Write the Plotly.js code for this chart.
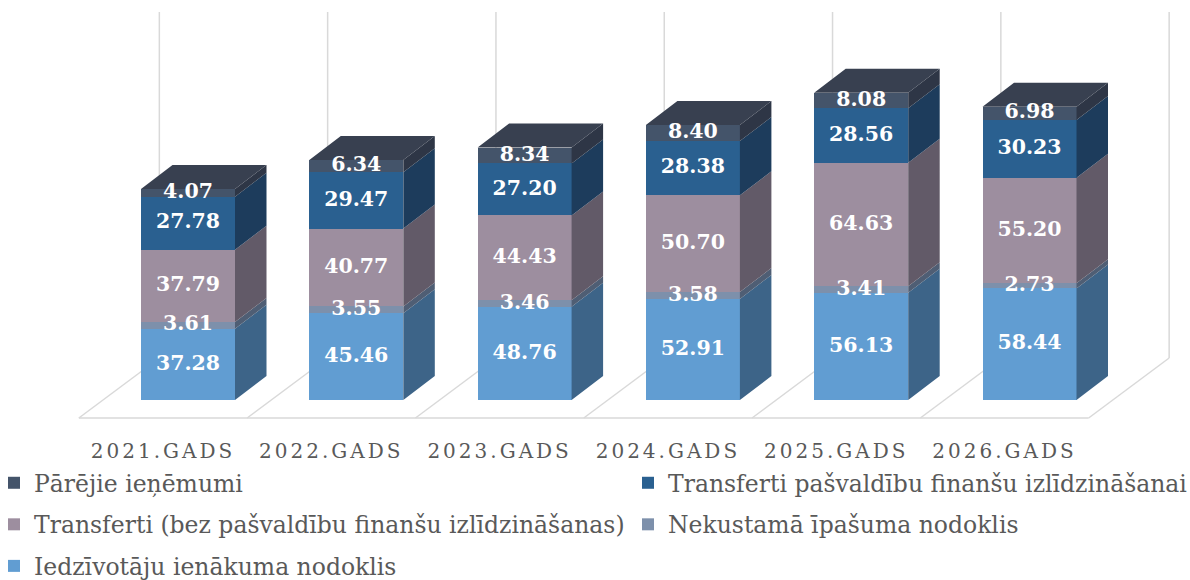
<!DOCTYPE html>
<html><head><meta charset="utf-8">
<script src="https://cdn.plot.ly/plotly-3.0.1.min.js"></script>
<style>
html,body{margin:0;padding:0;background:#fff;}
#chart{width:1190px;height:580px;}
.xtick text{letter-spacing:3px;}
</style></head><body><div id="chart"></div>
<script>
// ---- data ----
const categories = ['2021.GADS','2022.GADS','2023.GADS','2024.GADS','2025.GADS','2026.GADS'];
const seriesNames = ['Iedzīvotāju ienākuma nodoklis','Nekustamā īpašuma nodoklis','Transferti (bez pašvaldību finanšu izlīdzināšanas)','Transferti pašvaldību finanšu izlīdzināšanai','Pārējie ieņēmumi'];
const iedzivotaju = [37.28,45.46,48.76,52.91,56.13,58.44];
const nekustama = [3.61,3.55,3.46,3.58,3.41,2.73];
const transfertiBez = [37.79,40.77,44.43,50.70,64.63,55.20];
const transfertiPasv = [27.78,29.47,27.20,28.38,28.56,30.23];
const parejie = [4.07,6.34,8.34,8.40,8.08,6.98];
const seriesValues = [iedzivotaju, nekustama, transfertiBez, transfertiPasv, parejie];

// ---- style ----
const frontColors = ['#619dd2','#7d90ab','#9d8e9f','#2a6090','#44546a'];
const sideColors  = ['#3d6488','#4f5e74','#625a68','#1d3c5c','#2e3646'];
const topColor = '#384050';
const legendOf = ['legend','legend2','legend','legend2','legend'];
const serif = 'DejaVu Serif, Liberation Serif, serif';

// ---- geometry (pixels -> axis units) ----
const W = 1190, H = 580;
const plotTop = 12, plotBottom = 425;
const x0px = 163, stepPx = 168.3;
const zeroPx = 400, pxPerUnit = 1.91;
const xRange = [-x0px/stepPx, (W - x0px)/stepPx];
const yRange = [(zeroPx - plotBottom)/pxPerUnit, (zeroPx - plotTop)/pxPerUnit];
const barW = 94/stepPx;
const barShift = 25/stepPx;
const depthX = 31.5/stepPx, depthY = 24/pxPerUnit;
const floorFrontY = (zeroPx - 418)/pxPerUnit, floorBackY = (zeroPx - 358)/pxPerUnit;
const floorDX = 80.5/stepPx;

const idx = categories.map((_, i) => i);
const traces = [];
const bases = seriesValues.map((vals, s) => vals.map((v, i) => {
  let b = 0; for (let k = 0; k < s; k++) b += seriesValues[k][i]; return b;
}));

// front faces (bars); legend lists the top series first
seriesValues.forEach((vals, s) => {
  traces.push({
    type: 'bar', name: seriesNames[s], x: idx, y: vals,
    width: barW, offset: barShift - barW/2,
    marker: {color: frontColors[s], line: {width: 0}},
    legend: legendOf[s], legendgroup: seriesNames[s],
    legendrank: 1000 - s,
    hoverinfo: 'skip'
  });
});

// side faces
seriesValues.forEach((vals, s) => {
  const xs = [], ys = [];
  vals.forEach((v, i) => {
    const R = i + barShift + barW/2;
    const b = bases[s][i], t = b + v;
    xs.push(R, R + depthX, R + depthX, R, R, null);
    ys.push(b, b + depthY, t + depthY, t, b, null);
  });
  traces.push({type: 'scatter', mode: 'none', x: xs, y: ys, fill: 'toself',
    fillcolor: sideColors[s], showlegend: false, hoverinfo: 'skip'});
});

// top faces
(function(){
  const xs = [], ys = [];
  const last = seriesValues.length - 1;
  idx.forEach(i => {
    const L = i + barShift - barW/2, R = i + barShift + barW/2;
    const T = bases[last][i] + seriesValues[last][i];
    xs.push(L, L + depthX, R + depthX, R, L, null);
    ys.push(T, T + depthY, T + depthY, T, T, null);
  });
  traces.push({type: 'scatter', mode: 'none', x: xs, y: ys, fill: 'toself',
    fillcolor: topColor, showlegend: false, hoverinfo: 'skip'});
})();

// data labels
seriesValues.forEach((vals, s) => {
  traces.push({type: 'scatter', mode: 'text',
    x: idx.map(i => i + barShift), y: vals.map((v, i) => bases[s][i] + v/2),
    text: vals.map(v => v.toFixed(2)),
    textposition: 'middle center',
    textfont: {family: serif, size: 20.5, color: '#ffffff', weight: 'bold'},
    cliponaxis: false, showlegend: false, hoverinfo: 'skip'});
});

// floor and back gridlines
const shapes = [];
const gridColor = '#d9d9d9';
shapes.push({type: 'line', xref: 'x', yref: 'y', layer: 'below',
  x0: -0.5, x1: categories.length - 0.5, y0: floorFrontY, y1: floorFrontY,
  line: {color: gridColor, width: 1.5}});
for (let k = 0; k <= categories.length; k++) {
  const xf = k - 0.5, xb = xf + floorDX;
  shapes.push({type: 'line', xref: 'x', yref: 'y', layer: 'below',
    x0: xf, x1: xb, y0: floorFrontY, y1: floorBackY, line: {color: gridColor, width: 1.5}});
  shapes.push({type: 'line', xref: 'x', yref: 'y', layer: 'below',
    x0: xb, x1: xb, y0: floorBackY, y1: yRange[1], line: {color: gridColor, width: 1.5}});
}

const legendY = (plotBottom - 461)/(plotBottom - plotTop);
const legendFont = {family: serif, size: 23.5, color: '#595959'};
const layout = {
  width: W, height: H,
  margin: {l: 0, r: 0, t: plotTop, b: H - plotBottom, autoexpand: false},
  paper_bgcolor: '#ffffff', plot_bgcolor: '#ffffff',
  barmode: 'stack', hovermode: false,
  showlegend: true,
  xaxis: {range: xRange, tickvals: idx, ticktext: categories, showgrid: false,
    zeroline: false, showline: false, ticks: '', ticklabelstandoff: 12,
    tickfont: {family: serif, size: 20, color: '#595959'}, fixedrange: true},
  yaxis: {range: yRange, visible: false, fixedrange: true},
  legend: {x: -6/W, xanchor: 'left', y: legendY, yanchor: 'top',
    orientation: 'v', traceorder: 'grouped', tracegroupgap: 8,
    font: legendFont, bgcolor: 'rgba(0,0,0,0)'},
  legend2: {x: 628/W, xanchor: 'left', y: legendY, yanchor: 'top',
    orientation: 'v', traceorder: 'grouped', tracegroupgap: 8,
    font: legendFont, bgcolor: 'rgba(0,0,0,0)'},
  shapes: shapes
};
Plotly.newPlot('chart', traces, layout, {displayModeBar: false, staticPlot: true});
</script></body></html>
